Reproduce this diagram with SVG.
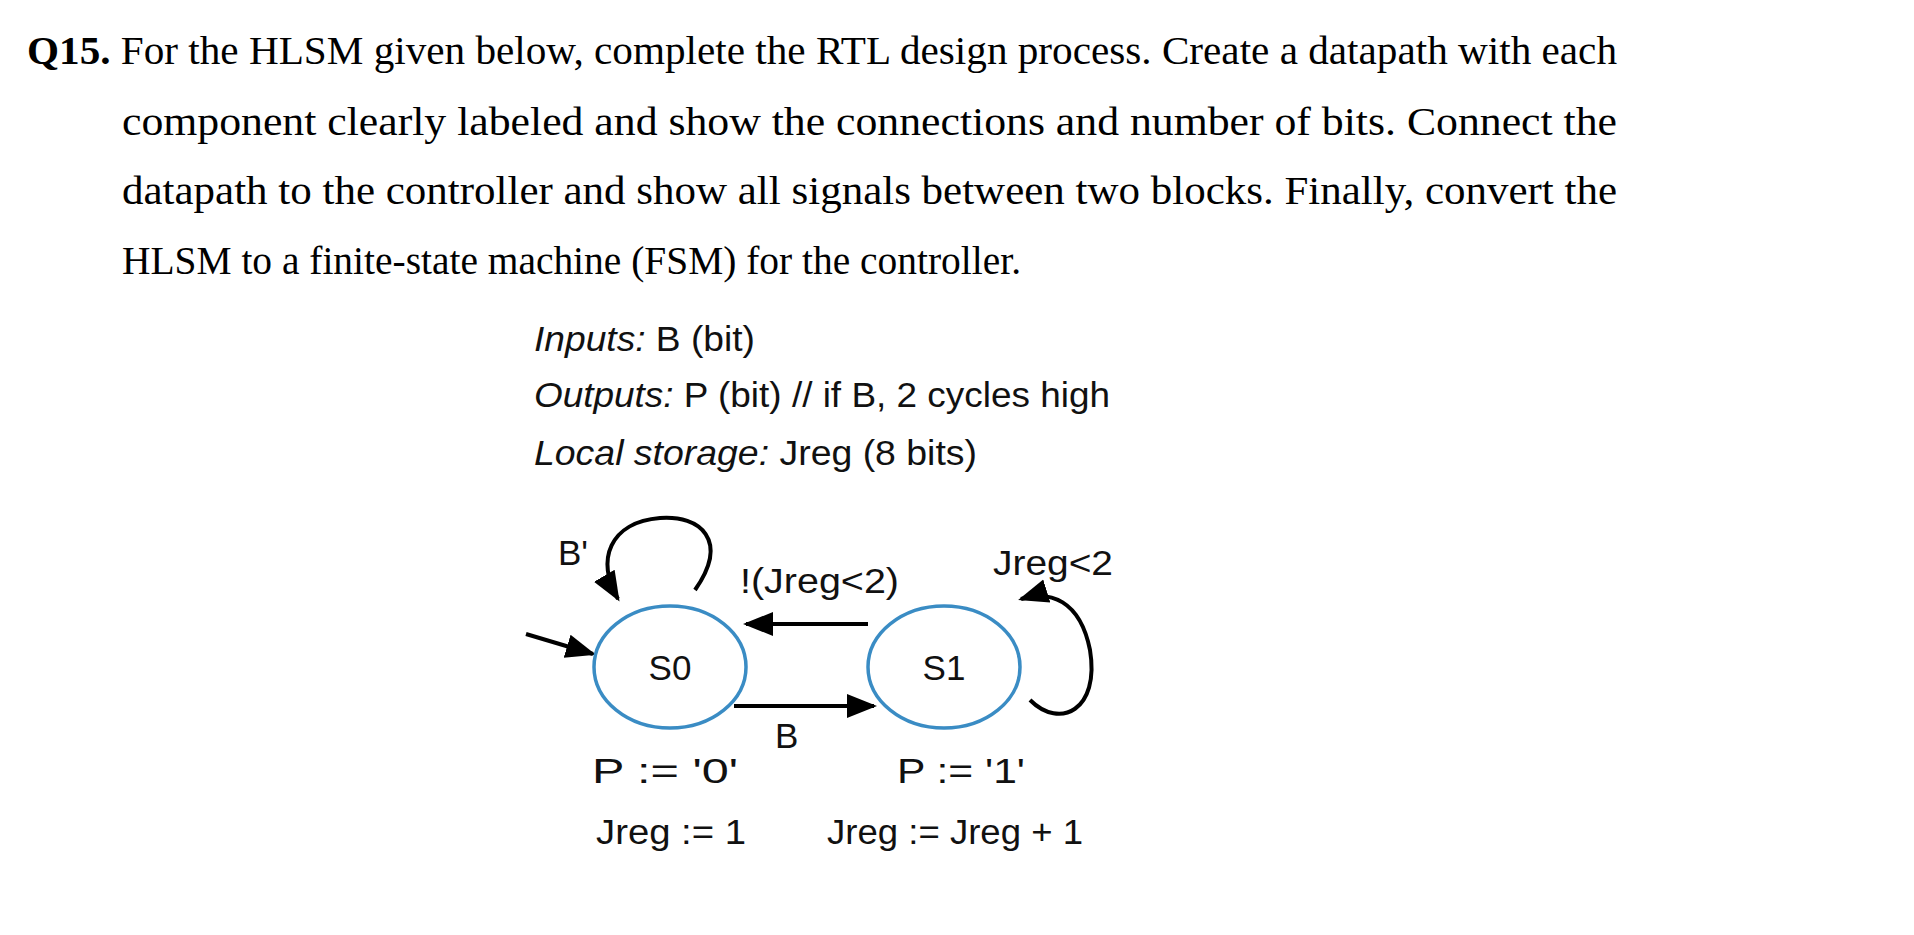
<svg xmlns="http://www.w3.org/2000/svg" width="1914" height="935" viewBox="0 0 1914 935">
<style>
.q{font-family:"Liberation Serif",serif;font-size:40px;fill:#000}
.d{font-family:"Liberation Sans",Arial,sans-serif;font-size:35px;fill:#111}
.i{font-style:italic}
.st{fill:#fff;stroke:#3a8cc4;stroke-width:3.5}
.c{fill:none;stroke:#000;stroke-width:4}
</style>
<defs>
<marker id="m" viewBox="0 0 10 10" refX="9" refY="5" markerWidth="30" markerHeight="30" markerUnits="userSpaceOnUse" orient="auto"><path d="M0,1L10,5L0,9z" fill="#000"/></marker></defs>
<rect width="1914" height="935" fill="#fff"/>
<text class="q" x="27" y="64" textLength="1590" lengthAdjust="spacingAndGlyphs"><tspan font-weight="bold">Q15.</tspan> For the HLSM given below, complete the RTL design process. Create a datapath with each</text>
<text class="q" x="122" y="135" textLength="1495" lengthAdjust="spacingAndGlyphs">component clearly labeled and show the connections and number of bits. Connect the</text>
<text class="q" x="122" y="204" textLength="1495" lengthAdjust="spacingAndGlyphs">datapath to the controller and show all signals between two blocks. Finally, convert the</text>
<text class="q" x="122" y="274" textLength="899" lengthAdjust="spacingAndGlyphs">HLSM to a finite-state machine (FSM) for the controller.</text>
<text class="d" x="534" y="351" textLength="221" lengthAdjust="spacingAndGlyphs"><tspan class="i">Inputs:</tspan> B (bit)</text>
<text class="d" x="534" y="407" textLength="576" lengthAdjust="spacingAndGlyphs"><tspan class="i">Outputs:</tspan> P (bit) // if B, 2 cycles high</text>
<text class="d" x="534" y="465" textLength="443" lengthAdjust="spacingAndGlyphs"><tspan class="i">Local storage:</tspan> Jreg (8 bits)</text>
<g id="connectors">
<path class="c" d="M526,634 L593,654" marker-end="url(#m)"/>
<path class="c" d="M868,624 L746,624" marker-end="url(#m)"/>
<path class="c" d="M734,706 L874,706" marker-end="url(#m)"/>
<path class="c" d="M695,590 C730,540 700,515 660,518 C610,522 595,560 618,599" marker-end="url(#m)"/>
<path class="c" d="M1030,700 C1060,730 1100,710 1090,650 C1080,600 1050,590 1021,599" marker-end="url(#m)"/>
<text class="d" x="740" y="593" textLength="159" lengthAdjust="spacingAndGlyphs">!(Jreg&lt;2)</text>
<text class="d" x="775" y="748">B</text>
<text class="d" x="993" y="575" textLength="120" lengthAdjust="spacingAndGlyphs">Jreg&lt;2</text>
<text class="d" x="558" y="565">B'</text>
</g>
<g id="S0"><ellipse class="st" cx="670" cy="667" rx="76" ry="61"/><text class="d" x="670" y="680" text-anchor="middle">S0</text></g>
<g id="S1"><ellipse class="st" cx="944" cy="667" rx="76" ry="61"/><text class="d" x="944" y="680" text-anchor="middle">S1</text></g>
<text class="d" x="592" y="783" textLength="146" lengthAdjust="spacingAndGlyphs">P := '0'</text>
<text class="d" x="596" y="844" textLength="150" lengthAdjust="spacingAndGlyphs">Jreg := 1</text>
<text class="d" x="897" y="783" textLength="128" lengthAdjust="spacingAndGlyphs">P := '1'</text>
<text class="d" x="827" y="844" textLength="256" lengthAdjust="spacingAndGlyphs">Jreg := Jreg + 1</text>
</svg>
